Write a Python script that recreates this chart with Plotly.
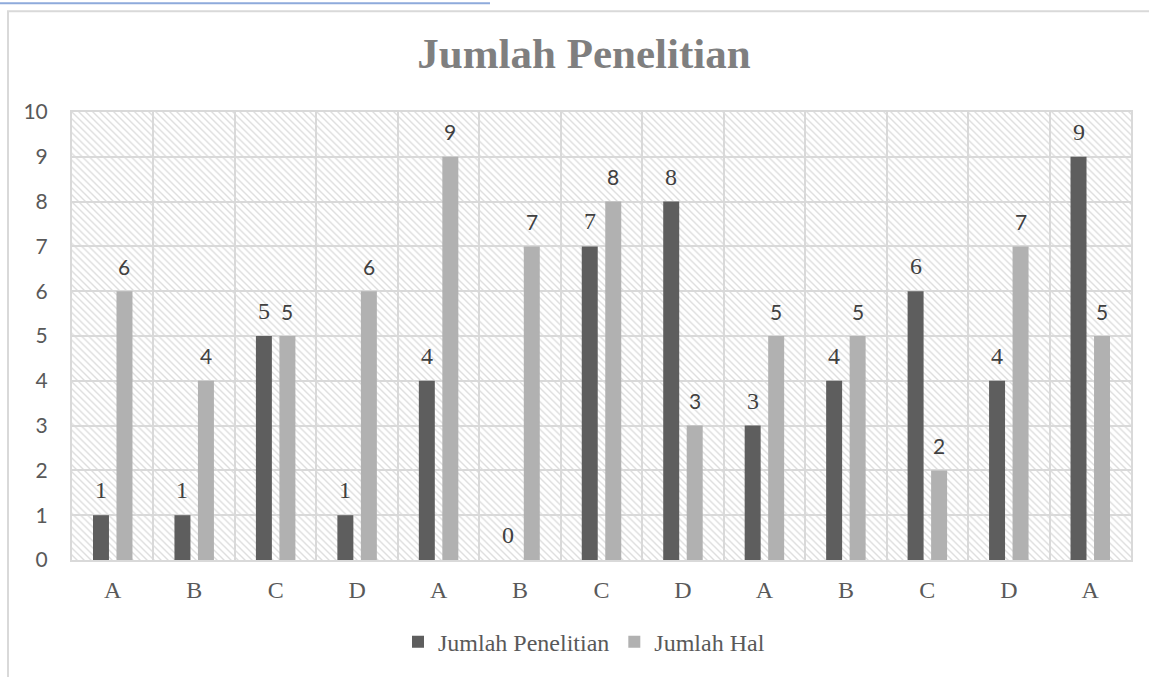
import base64
import plotly.graph_objects as go

# ---- data ----
categories = ["A", "B", "C", "D", "A", "B", "C", "D", "A", "B", "C", "D", "A"]
jumlah_penelitian = [1, 1, 5, 1, 4, 0, 7, 8, 3, 4, 6, 4, 9]
jumlah_hal = [6, 4, 5, 6, 9, 7, 8, 3, 5, 5, 2, 7, 5]
y_ticks = list(range(0, 11))
title_text = "Jumlah Penelitian"
series_names = ["Jumlah Penelitian", "Jumlah Hal"]

W, H = 1149, 677
ML, MR, MT, MB = 72, 18, 112, 112
PW, PH = W - ML - MR, H - MT - MB

DARK = "#5e5e5e"
LIGHT = "#b1b1b1"
GRID = "#d9d9d9"
SERIF = "Liberation Serif"
SANS = "Lato"

idx = list(range(len(categories)))

fig = go.Figure()
fig.add_trace(go.Bar(x=idx, y=jumlah_penelitian, name=series_names[0],
                     marker=dict(color=DARK, line=dict(width=0))))
fig.add_trace(go.Bar(x=idx, y=jumlah_hal, name=series_names[1],
                     marker=dict(color=LIGHT, line=dict(width=0))))

# data labels
off = 11.75
for i in idx:
    fig.add_annotation(x=i, y=jumlah_penelitian[i], text=str(jumlah_penelitian[i]),
                       xref="x", yref="y", showarrow=False, xshift=-off, yshift=25,
                       yanchor="middle",
                       font=dict(family=SERIF, size=24, color="#404040"))
    fig.add_annotation(x=i, y=jumlah_hal[i], text=str(jumlah_hal[i]),
                       xref="x", yref="y", showarrow=False, xshift=off, yshift=25,
                       yanchor="middle",
                       font=dict(family=SANS, size=21, color="#404040"))

# hatch background
svg = (f"<svg xmlns='http://www.w3.org/2000/svg' width='{PW}' height='{PH}'>"
       "<defs><pattern id='h' width='7' height='7' patternUnits='userSpaceOnUse'>"
       "<path d='M0,0 L7,7 M6,-1 L8,1 M-1,6 L1,8' stroke='#dedede' stroke-width='1.4'/>"
       "</pattern></defs><rect width='100%' height='100%' fill='url(#h)'/></svg>")
src = "data:image/svg+xml;base64," + base64.b64encode(svg.encode()).decode()
fig.add_layout_image(source=src, xref="paper", yref="paper", x=0, y=1,
                     sizex=1, sizey=1, xanchor="left", yanchor="top",
                     sizing="stretch", layer="below")


def px_x(p):
    return (p - ML) / PW


def px_y(p):
    return (H - MB - p) / PH


# outer chart border and blue top line
fig.add_shape(type="rect", xref="paper", yref="paper",
              x0=px_x(8), x1=px_x(1165), y0=px_y(10), y1=px_y(700),
              line=dict(color=GRID, width=2), fillcolor="rgba(0,0,0,0)", layer="above")
fig.add_shape(type="line", xref="paper", yref="paper",
              x0=px_x(0), x1=px_x(490), y0=px_y(2), y1=px_y(2),
              line=dict(color="#8eaadb", width=2))

fig.update_layout(
    width=W, height=H,
    margin=dict(l=ML, r=MR, t=MT, b=MB),
    paper_bgcolor="white",
    plot_bgcolor="rgba(0,0,0,0)",
    barmode="group",
    bargap=0.423,
    bargroupgap=0.32,
    title=dict(text=f"<b>{title_text}</b>", x=584 / W, xanchor="center",
               y=1 - 53 / H, yanchor="middle",
               font=dict(family=SERIF, size=43, color="#7f7f7f")),
    showlegend=True,
    legend=dict(orientation="h", x=px_x(584), xanchor="center",
                y=px_y(648), yanchor="middle",
                font=dict(family=SERIF, size=24, color="#595959"),
                bgcolor="rgba(0,0,0,0)", itemclick=False),
    xaxis=dict(range=[-0.5, len(categories) - 0.5],
               tickvals=idx, ticktext=categories,
               showgrid=False, zeroline=False,
               ticks="", ticklabelstandoff=7,
               tickfont=dict(family=SERIF, size=24, color="#595959"),
               showline=True, linecolor=GRID, linewidth=2, mirror=True,
               minor=dict(tickvals=[i - 0.5 for i in idx] + [len(categories) - 0.5],
                          showgrid=True, gridcolor=GRID, gridwidth=2, ticks="")),
    yaxis=dict(range=[0, 10], tickvals=y_ticks, showgrid=True, gridcolor=GRID, gridwidth=2,
               zeroline=False, ticks="", ticklabelstandoff=18,
               tickfont=dict(family=SANS, size=21, color="#595959"),
               showline=True, linecolor=GRID, linewidth=2, mirror=True),
)

fig.write_html("out.html", config={"displayModeBar": False},
               post_script="document.body.style.margin='0';document.body.style.overflow='hidden';")
